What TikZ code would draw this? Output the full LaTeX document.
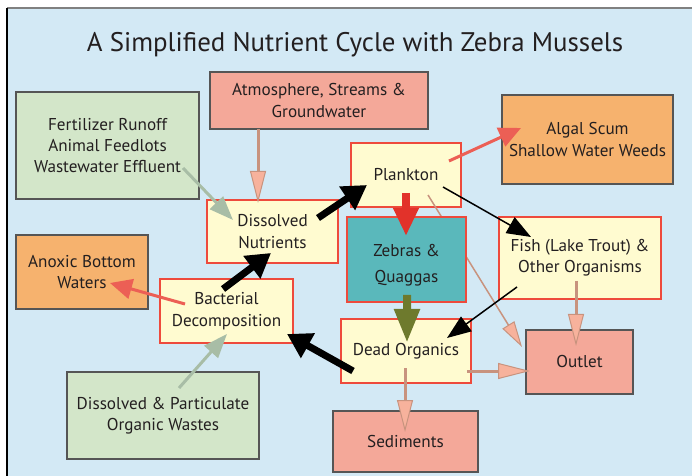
\documentclass[tikz,border=0pt]{standalone}
\usepackage{fontspec}
\setmainfont{PT Sans}
\usetikzlibrary{arrows.meta,calc}
\definecolor{bg}{HTML}{D3E9F5}
\definecolor{grn}{HTML}{D3E6C9}
\definecolor{salm}{HTML}{F4A899}
\definecolor{orng}{HTML}{F6B26E}
\definecolor{yel}{HTML}{FFFBD0}
\definecolor{teal2}{HTML}{5AB8BB}
\definecolor{redb}{HTML}{EE4A3C}
\definecolor{dborder}{HTML}{555555}
\definecolor{txt}{HTML}{231F20}
\definecolor{tanl}{HTML}{C8937E}
\definecolor{tanf}{HTML}{F7B29C}
\definecolor{gg}{HTML}{A8BDA6}
\definecolor{coral}{HTML}{EC5F55}
\definecolor{redarr}{HTML}{E2322A}
\definecolor{olive}{HTML}{6E7A2D}
\begin{document}
\begin{tikzpicture}[x=1bp,y=-1bp,
  bx/.style={rectangle, line width=1.5bp, inner sep=0pt, align=center,
    font=\fontsize{17.2}{21.5}\selectfont, text=txt},
  greenbox/.style={bx, fill=grn, draw=dborder},
  salmbox/.style={bx, fill=salm, draw=dborder},
  orngbox/.style={bx, fill=orng, draw=dborder},
  yelbox/.style={bx, fill=yel, draw=redb},
  tealbox/.style={bx, fill=teal2, draw=redb},
  tanarr/.style={draw=tanl, line width=3bp, -{Triangle[length=32bp,width=16bp,fill=tanf,line width=1bp]}},
  tanthin/.style={draw=tanl, line width=1.5bp, -{Triangle[length=26bp,width=14bp,fill=tanf,line width=1bp]}},
  ggarr/.style={draw=gg, line width=3bp, -{Triangle[length=24bp,width=18bp]}},
  blkthick/.style={draw=black, line width=7bp, -{Triangle[length=24bp,width=27bp]}},
  blkthin/.style={draw=black, line width=1.5bp, -{Triangle[length=24bp,width=18bp]}},
  corarr/.style={draw=coral, line width=3bp, -{Triangle[length=22bp,width=20bp]}},
]
\useasboundingbox (0,0) rectangle (692,476);
\fill[bg] (7,8) rectangle (692,476);
\draw[line width=2bp, draw=gray] (7,8) -- (692,8);
\draw[line width=1.5bp, draw=black] (7,8) -- (7,476);

\node[font=\fontsize{27}{31}\selectfont, text=txt] (title) at (355,45) {A Simplified Nutrient Cycle with Zebra Mussels};

\node[greenbox, minimum width=183bp, minimum height=107bp] (fert) at (107.5,145.5) {Fertilizer Runoff\\Animal Feedlots\\Wastewater Effluent};
\node[salmbox, minimum width=218bp, minimum height=57bp] (atm) at (319,100.5) {Atmosphere, Streams \&\\Groundwater};
\node[orngbox, minimum width=171bp, minimum height=89bp] (algal) at (587.5,139.5) {Algal Scum\\Shallow Water Weeds};
\node[yelbox, minimum width=110bp, minimum height=64bp] (plank) at (406,175) {Plankton};
\node[yelbox, minimum width=131bp, minimum height=63bp] (dissn) at (272.5,231.5) {Dissolved\\Nutrients};
\node[yelbox, minimum width=162bp, minimum height=82bp] (fish) at (580,258) {Fish (Lake Trout) \&\\Other Organisms};
\node[orngbox, minimum width=132bp, minimum height=74bp] (anox) at (82,272) {Anoxic Bottom\\Waters};
\node[yelbox, minimum width=133bp, minimum height=64bp] (bact) at (226.5,311) {Bacterial\\Decomposition};
\node[yelbox, minimum width=130bp, minimum height=64bp] (dead) at (406,351) {Dead Organics};
\node[salmbox, minimum width=107bp, minimum height=64bp] (outlet) at (579.5,362) {Outlet};
\node[greenbox, minimum width=192bp, minimum height=87bp] (orgw) at (163,415.5) {Dissolved \& Particulate\\Organic Wastes};
\node[salmbox, minimum width=145bp, minimum height=61bp] (sed) at (405.5,441.5) {Sediments};

% plankton -> outlet passes under the zebra box
\draw[tanthin] ($(plank)+(22,20)$) -- ($(outlet)+(-57.5,-15)$);

\node[tealbox, minimum width=119bp, minimum height=85bp] (zebra) at (406.5,259.5) {};
\node[bx, draw=none, font=\fontsize{17.2}{26}\selectfont] (zebratext) at ($(zebra)+(0,5.5)$) {Zebras \&\\Quaggas};

\draw[tanarr] ($(atm)+(-61,28.5)$) -- ($(dissn)+(-14.5,-28.5)$);
\draw[ggarr] ($(fert)+(75.5,22.5)$) -- ($(dissn)+(-39.5,-11.5)$);
\draw[blkthick] ($(dissn)+(45.5,-13.5)$) -- ($(plank)+(-39,10)$);
\draw[blkthick] ($(bact)+(-3.5,-22)$) -- ($(dissn)+(-1.5,21.5)$);
\draw[corarr] ($(plank)+(43,-14)$) -- ($(algal)+(-66.5,-11.5)$);
\draw[draw=redarr, line width=8bp, -{Triangle[length=28bp,width=24bp]}] ($(plank)+(0,18)$) -- ($(zebra)+(-0.5,-23.5)$);
\draw[blkthin] ($(plank)+(37,12)$) -- ($(fish)+(-49,-21)$);
\draw[blkthin] ($(fish)+(-63,29)$) -- ($(dead)+(41,-13)$);
\draw[tanarr] ($(fish)+(-4,23)$) -- ($(outlet)+(-3.5,-16)$);
\draw[draw=olive, line width=8bp, -{Triangle[length=34bp,width=24bp]}] ($(zebra)+(0.5,35.5)$) -- ($(dead)+(1,-8)$);
\draw[blkthick] ($(dead)+(-53,20)$) -- ($(bact)+(60.5,23)$);
\draw[corarr] ($(bact)+(-41.5,-7)$) -- ($(anox)+(28,11)$);
\draw[ggarr] ($(orgw)+(16,-27.5)$) -- ($(bact)+(0.5,23)$);
\draw[tanarr] ($(dead)+(61,20)$) -- ($(outlet)+(-49.5,9)$);
\draw[tanarr] ($(dead)+(-1,17)$) -- ($(sed)+(-0.5,-9.5)$);
\end{tikzpicture}
\end{document}
